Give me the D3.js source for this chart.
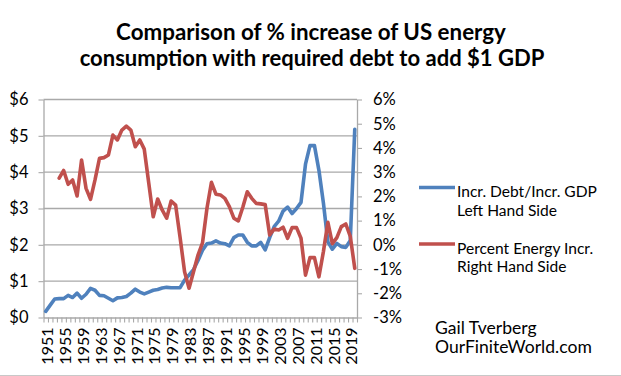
<!DOCTYPE html>
<html><head><meta charset="utf-8">
<script src="https://cdn.jsdelivr.net/npm/d3@7"></script>
<style>body{margin:0;background:#fff}svg{display:block}</style>
</head><body>
<svg id="c" width="621" height="376"></svg>
<script>
const years = [1951,1952,1953,1954,1955,1956,1957,1958,1959,1960,
  1961,1962,1963,1964,1965,1966,1967,1968,1969,1970,
  1971,1972,1973,1974,1975,1976,1977,1978,1979,1980,
  1981,1982,1983,1984,1985,1986,1987,1988,1989,1990,
  1991,1992,1993,1994,1995,1996,1997,1998,1999,2000,
  2001,2002,2003,2004,2005,2006,2007,2008,2009,2010,
  2011,2012,2013,2014,2015,2016,2017,2018,2019,2020];
// Incr. Debt / Incr. GDP (left axis, $)
const debtPerGDP = [0.17,0.34,0.51,0.52,0.52,0.61,0.55,0.67,0.53,0.64,
  0.80,0.75,0.61,0.60,0.53,0.46,0.54,0.55,0.58,0.67,
  0.78,0.70,0.65,0.70,0.75,0.77,0.81,0.83,0.82,0.82,
  0.82,1.03,1.17,1.32,1.57,1.85,2.03,2.05,2.11,2.05,
  2.03,1.97,2.20,2.27,2.27,2.07,1.97,1.97,2.07,1.86,
  2.20,2.50,2.65,2.93,3.04,2.86,3.00,3.17,4.22,4.73,
  4.73,4.05,3.15,2.08,1.88,2.04,1.95,1.93,2.12,5.18];
// Percent energy increase (right axis, %)
const energyPct = [null,null,null,2.75,3.07,2.50,2.68,2.02,3.50,2.33,
  1.88,2.68,3.57,3.60,3.71,4.53,4.33,4.74,4.90,4.74,
  4.05,4.33,3.95,2.55,1.16,1.89,1.44,1.10,1.81,1.64,
  0.30,-1.11,-1.79,-1.11,-0.42,0.08,1.51,2.58,2.09,2.06,
  1.92,1.58,1.10,0.99,1.55,2.19,1.92,1.71,1.69,1.66,
  0.41,0.65,0.61,0.73,0.27,0.71,0.71,0.27,-1.25,-0.53,
  -0.53,-1.32,-0.28,0.93,0.05,0.30,0.75,0.86,0.35,-0.97];
const leftTicks = [0,1,2,3,4,5,6];
const rightTicks = [-3,-2,-1,0,1,2,3,4,5,6];
const xLabelYears = [1951,1955,1959,1963,1967,1971,1975,1979,1983,1987,1991,1995,1999,2003,2007,2011,2015,2019];
const titleLines = ["Comparison of % increase of US energy","consumption with required debt to add $1 GDP"];
const legendItems = [
  {lines:["Incr. Debt/Incr. GDP","Left Hand Side"], color:"#4F81BD"},
  {lines:["Percent Energy Incr.","Right Hand Side"], color:"#C0504D"}];
const creditLines = ["Gail Tverberg","OurFiniteWorld.com"];

const FONT = "Lato, 'Open Sans', sans-serif";
const svg = d3.select("#c");
const L = 43.5, R = 357, T = 99.5, B = 317.5;
const x = d3.scaleBand().domain(years).range([L, R]);
const bw = x.bandwidth();
const xi = d3.scaleLinear().domain([0, years.length]).range([L, R]);
const yL = d3.scaleLinear().domain([0, 6]).range([B, T]);
const yR = d3.scaleLinear().domain([-3, 6]).range([B, T]);
const gridCol = "#a9a9a9";

function fit(sel, target, base) {
  sel.style("font-size", base + "px");
  const w = sel.node().getComputedTextLength();
  const s = base * target / w;
  sel.style("font-size", s + "px");
  return s;
}

// title
const t1 = svg.append("text").attr("x", 311).attr("y", 39.5).attr("text-anchor","middle")
  .style("font-family", FONT).style("font-weight","bold").attr("fill","#000").text(titleLines[0]);
fit(t1, 390, 20);
const t2 = svg.append("text").attr("x", 312).attr("y", 65.5).attr("text-anchor","middle")
  .style("font-family", FONT).style("font-weight","bold").attr("fill","#000").text(titleLines[1]);
fit(t2, 465, 20);

// gridlines
svg.append("g").selectAll("line").data(leftTicks.filter(d => d > 0)).join("line")
  .attr("x1", L).attr("x2", R).attr("y1", d => yL(d)).attr("y2", d => yL(d))
  .attr("stroke", gridCol).attr("stroke-width", 1.3);

// left axis
const gl = svg.append("g").attr("transform", `translate(${L},0)`)
  .call(d3.axisLeft(yL).tickValues(leftTicks).tickSize(5).tickSizeOuter(0).tickPadding(10).tickFormat(d => "$" + d));
// right axis
const gr = svg.append("g").attr("transform", `translate(${R},0)`)
  .call(d3.axisRight(yR).tickValues(rightTicks).tickSize(5).tickSizeOuter(0).tickPadding(11).tickFormat(d => d + "%"));
// bottom minor ticks
const gbt = svg.append("g").attr("transform", `translate(0,${B})`)
  .call(d3.axisBottom(xi).tickValues(d3.range(0, years.length + 1)).tickSize(5).tickSizeOuter(0).tickFormat(""));
// bottom labels
const gb = svg.append("g").attr("transform", `translate(0,${B})`)
  .call(d3.axisBottom(x).tickValues(xLabelYears).tickSize(0).tickSizeOuter(0));
gb.select(".domain").remove();
gb.selectAll("text").attr("transform","rotate(-90)").attr("text-anchor","end")
  .attr("x", -10).attr("y", 0).attr("dy", "7.2px");

[gl, gr, gbt].forEach(g => {
  g.select(".domain").attr("stroke", gridCol).attr("stroke-width", 1.3);
  g.selectAll(".tick line").attr("stroke", gridCol).attr("stroke-width", 1.1);
});
[gl, gr, gb].forEach(g => g.selectAll("text").style("font-family", FONT).attr("fill","#000"));
gl.selectAll("text").style("font-size","16.5px");
gr.selectAll("text").style("font-size","16.5px").attr("text-anchor","start");
gb.selectAll("text").style("font-size","16px");

// lines
const mk = (scale) => d3.line().defined(d => d != null)
  .x((d, i) => x(years[i]) + bw / 2).y(d => scale(d)).curve(d3.curveLinear);
svg.append("path").datum(debtPerGDP).attr("d", mk(yL)).attr("fill","none")
  .attr("stroke", legendItems[0].color).attr("stroke-width", 3.6).attr("stroke-linejoin","round").attr("stroke-linecap","round");
svg.append("path").datum(energyPct).attr("d", mk(yR)).attr("fill","none")
  .attr("stroke", legendItems[1].color).attr("stroke-width", 3.6).attr("stroke-linejoin","round").attr("stroke-linecap","round");

// legend
const legY = [187.5, 244];
const legBase = [[197.2, 215.5], [253.7, 272]];
let legSize = null;
legendItems.forEach((it, k) => {
  svg.append("line").attr("x1", 419).attr("x2", 455).attr("y1", legY[k]).attr("y2", legY[k])
    .attr("stroke", it.color).attr("stroke-width", 3.6);
  it.lines.forEach((ln, j) => {
    const t = svg.append("text").attr("x", 457).attr("y", legBase[k][j])
      .style("font-family", FONT).attr("fill", "#000").text(ln);
    if (legSize === null) legSize = fit(t, 140, 16);
    else t.style("font-size", legSize + "px");
  });
});

// credit
const c2 = svg.append("text").attr("x", 435).attr("y", 353).style("font-family", FONT).attr("fill","#000").text(creditLines[1]);
const cs = fit(c2, 157, 17);
svg.append("text").attr("x", 435).attr("y", 333.5).style("font-family", FONT).style("font-size", cs + "px").attr("fill","#000").text(creditLines[0]);

// bottom border
svg.append("line").attr("x1", 0).attr("x2", 621).attr("y1", 375.5).attr("y2", 375.5).attr("stroke", "#c8c8c8").attr("stroke-width", 1);
</script>
</body></html>
